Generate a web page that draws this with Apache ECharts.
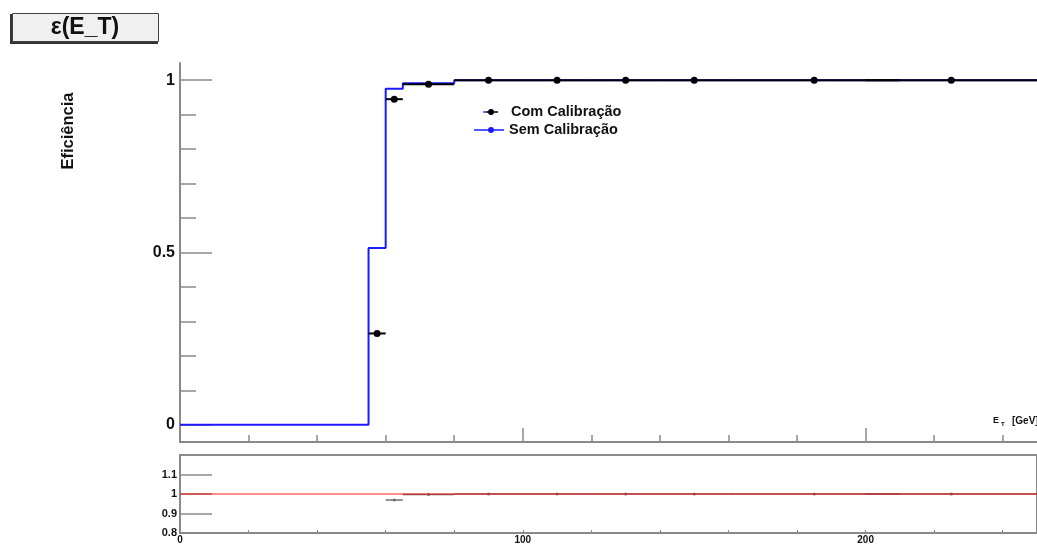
<!DOCTYPE html>
<html>
<head>
<meta charset="utf-8">
<script src="https://cdn.jsdelivr.net/npm/echarts@6/dist/echarts.min.js"></script>
<style>
  html, body { margin: 0; padding: 0; background: #fff; }
  #chart { width: 1037px; height: 545px; }
</style>
</head>
<body>
<div id="chart"></div>
<script>
// Efficiency vs E_T: histogram without calibration, points with calibration, ratio below
const semEdges = [0, 55, 60, 65, 80, 250];
const semValues = [0, 0.513, 0.975, 0.991, 1.0];

const comCenters = [57.5, 62.5, 72.5, 90, 110, 130, 150, 185, 225];
const comHalfWidths = [2.5, 2.5, 7.5, 10, 10, 10, 10, 25, 25];
const comValues = [0.265, 0.945, 0.988, 1, 1, 1, 1, 1, 1];

const effTickLabels = [0, 0.5, 1];
const effMinorTicks = [0.1, 0.2, 0.3, 0.4, 0.6, 0.7, 0.8, 0.9];
const ratioTickLabels = [0.8, 0.9, 1, 1.1];
const xMajorTicks = [100, 200];
const xMinorTicks = [20, 40, 60, 80, 120, 140, 160, 180, 220, 240];
const xRatioLabels = [0, 100, 200];

const AXIS = '#8a8a8a';
const FONT = 'Liberation Sans, Arial, Helvetica, sans-serif';

// step outline of the histogram
const semStep = [];
for (let i = 0; i < semValues.length; i++) {
  semStep.push([semEdges[i], semValues[i]]);
  semStep.push([semEdges[i + 1], semValues[i]]);
}

function semAt(x) {
  for (let i = 0; i < semValues.length; i++) {
    if (x >= semEdges[i] && x < semEdges[i + 1]) return semValues[i];
  }
  return semValues[semValues.length - 1];
}

const comData = comCenters.map((c, i) => [c, comHalfWidths[i], comValues[i]]);
const ratioData = comCenters
  .map((c, i) => [c, comHalfWidths[i], semAt(c) > 0 ? comValues[i] / semAt(c) : null])
  .filter(d => d[2] !== null && d[2] >= 0.8 && d[2] <= 1.2);

function errorBars(color, width, radius) {
  return function (params, api) {
    const c = api.value(0), h = api.value(1), v = api.value(2);
    const a = api.coord([c - h, v]);
    const b = api.coord([c + h, v]);
    const m = api.coord([c, v]);
    return {
      type: 'group',
      children: [
        { type: 'line', shape: { x1: a[0], y1: a[1], x2: b[0], y2: b[1] },
          style: { stroke: color, lineWidth: width } },
        { type: 'circle', shape: { cx: m[0], cy: m[1], r: radius },
          style: { fill: color } }
      ]
    };
  };
}

const chart = echarts.init(document.getElementById('chart'), null, { renderer: 'canvas' });

const option = {
  backgroundColor: '#ffffff',
  animation: false,
  grid: [
    { left: 180, right: -7, top: 63, height: 379 },
    { left: 180, right: -7, top: 455, height: 80, show: true,
      borderColor: AXIS, borderWidth: 2, backgroundColor: 'transparent' }
  ],
  xAxis: [
    { type: 'value', gridIndex: 0, min: 0, max: 250,
      axisLine: { show: true, onZero: false, lineStyle: { color: AXIS, width: 2 } },
      axisTick: { show: true, inside: true, length: 14, customValues: xMajorTicks,
        lineStyle: { color: AXIS, width: 1.5 } },
      axisLabel: { show: false }, splitLine: { show: false } },
    { type: 'value', gridIndex: 0, min: 0, max: 250, position: 'bottom',
      axisLine: { show: false, onZero: false },
      axisTick: { show: true, inside: true, length: 7, customValues: xMinorTicks,
        lineStyle: { color: AXIS, width: 1.5 } },
      axisLabel: { show: false }, splitLine: { show: false } },
    { type: 'value', gridIndex: 1, min: 0, max: 250,
      axisLine: { show: true, onZero: false, lineStyle: { color: AXIS, width: 2 } },
      axisTick: { show: true, inside: true, length: 3, customValues: xMinorTicks.concat(xMajorTicks),
        lineStyle: { color: AXIS, width: 1.2 } },
      axisLabel: { show: true, customValues: xRatioLabels, margin: 2,
        fontFamily: FONT, fontWeight: 'bold', fontSize: 10, color: '#111' },
      splitLine: { show: false } }
  ],
  yAxis: [
    { type: 'value', gridIndex: 0, min: -0.05, max: 1.05, position: 'left',
      axisLine: { show: true, onZero: false, lineStyle: { color: AXIS, width: 2 } },
      axisTick: { show: true, inside: true, length: 32, customValues: effTickLabels,
        lineStyle: { color: AXIS, width: 1.5 } },
      axisLabel: { show: true, customValues: effTickLabels, margin: 5,
        fontFamily: FONT, fontWeight: 'bold', fontSize: 16, color: '#111' },
      splitLine: { show: false } },
    { type: 'value', gridIndex: 0, min: -0.05, max: 1.05, position: 'left', offset: 0,
      axisLine: { show: false, onZero: false },
      axisTick: { show: true, inside: true, length: 16, customValues: effMinorTicks,
        lineStyle: { color: AXIS, width: 1.5 } },
      axisLabel: { show: false }, splitLine: { show: false } },
    { type: 'value', gridIndex: 1, min: 0.8, max: 1.2, position: 'left',
      axisLine: { show: true, onZero: false, lineStyle: { color: AXIS, width: 2 } },
      axisTick: { show: true, inside: true, length: 32, customValues: [0.9, 1, 1.1],
        lineStyle: { color: AXIS, width: 1.5 } },
      axisLabel: { show: true, customValues: ratioTickLabels, margin: 3,
        fontFamily: FONT, fontWeight: 'bold', fontSize: 11, color: '#111' },
      splitLine: { show: false } }
  ],
  series: [
    { name: 'Sem Calibração', type: 'line', xAxisIndex: 0, yAxisIndex: 0,
      data: semStep, symbol: 'none', z: 3,
      lineStyle: { color: '#1a1aff', width: 2 } },
    { name: 'Com Calibração', type: 'custom', xAxisIndex: 0, yAxisIndex: 0,
      data: comData, z: 4, encode: { x: 0, y: 2 },
      renderItem: errorBars('#000000', 2, 3.5) },
    { name: 'Razão', type: 'custom', xAxisIndex: 2, yAxisIndex: 2,
      data: ratioData, z: 3, clip: true, encode: { x: 0, y: 2 },
      renderItem: errorBars('#6e6e6e', 1.5, 1.5) },
    { name: 'Referência', type: 'line', xAxisIndex: 2, yAxisIndex: 2,
      data: [[0, 1], [250, 1]], symbol: 'none', z: 5,
      lineStyle: { color: 'rgba(255,0,0,0.45)', width: 2 } }
  ],
  graphic: [
    // title box
    { type: 'rect', left: 10, top: 14, z: 10,
      shape: { width: 148, height: 30 }, style: { fill: '#333333' } },
    { type: 'rect', left: 12, top: 13, z: 11,
      shape: { width: 146, height: 28 }, style: { fill: '#f0f0f0', stroke: '#444444', lineWidth: 1 } },
    { type: 'text', x: 85, y: 28, z: 12,
      style: { text: 'ε(E_T)', fontFamily: FONT, fontWeight: 'bold', fontSize: 23,
        fill: '#111', align: 'center', verticalAlign: 'middle' } },
    // y axis title
    { type: 'text', x: 68, y: 131, rotation: Math.PI / 2, z: 10,
      style: { text: 'Eficiência', fontFamily: FONT, fontWeight: 'bold', fontSize: 16.5,
        fill: '#111', align: 'center', verticalAlign: 'middle' } },
    // x axis title: E with subscript T, then the unit
    { type: 'text', x: 993, y: 421, z: 10,
      style: { text: 'E', fontFamily: FONT, fontWeight: 'bold', fontSize: 9,
        fill: '#111', align: 'left', verticalAlign: 'middle' } },
    { type: 'text', x: 1001, y: 424, z: 10,
      style: { text: 'T', fontFamily: FONT, fontWeight: 'bold', fontSize: 6,
        fill: '#111', align: 'left', verticalAlign: 'middle' } },
    { type: 'text', x: 1012, y: 421, z: 10,
      style: { text: '[GeV]', fontFamily: FONT, fontWeight: 'bold', fontSize: 10,
        fill: '#111', align: 'left', verticalAlign: 'middle' } },
    // legend
    { type: 'line', z: 10, shape: { x1: 483, y1: 112, x2: 486, y2: 112 },
      style: { stroke: '#3344ff', lineWidth: 1.5 } },
    { type: 'line', z: 10, shape: { x1: 486, y1: 112, x2: 498, y2: 112 },
      style: { stroke: '#000', lineWidth: 1.5 } },
    { type: 'circle', z: 11, shape: { cx: 491, cy: 112, r: 3 }, style: { fill: '#000' } },
    { type: 'text', x: 511, y: 112, z: 10,
      style: { text: 'Com Calibração', fontFamily: FONT, fontWeight: 'bold', fontSize: 14.5,
        fill: '#111', align: 'left', verticalAlign: 'middle' } },
    { type: 'line', z: 10, shape: { x1: 474, y1: 130, x2: 504, y2: 130 },
      style: { stroke: '#1a1aff', lineWidth: 1.5 } },
    { type: 'circle', z: 11, shape: { cx: 491, cy: 130, r: 3 }, style: { fill: '#1a1aff' } },
    { type: 'text', x: 509, y: 130, z: 10,
      style: { text: 'Sem Calibração', fontFamily: FONT, fontWeight: 'bold', fontSize: 14.5,
        fill: '#111', align: 'left', verticalAlign: 'middle' } }
  ]
};

chart.setOption(option);
</script>
</body>
</html>
